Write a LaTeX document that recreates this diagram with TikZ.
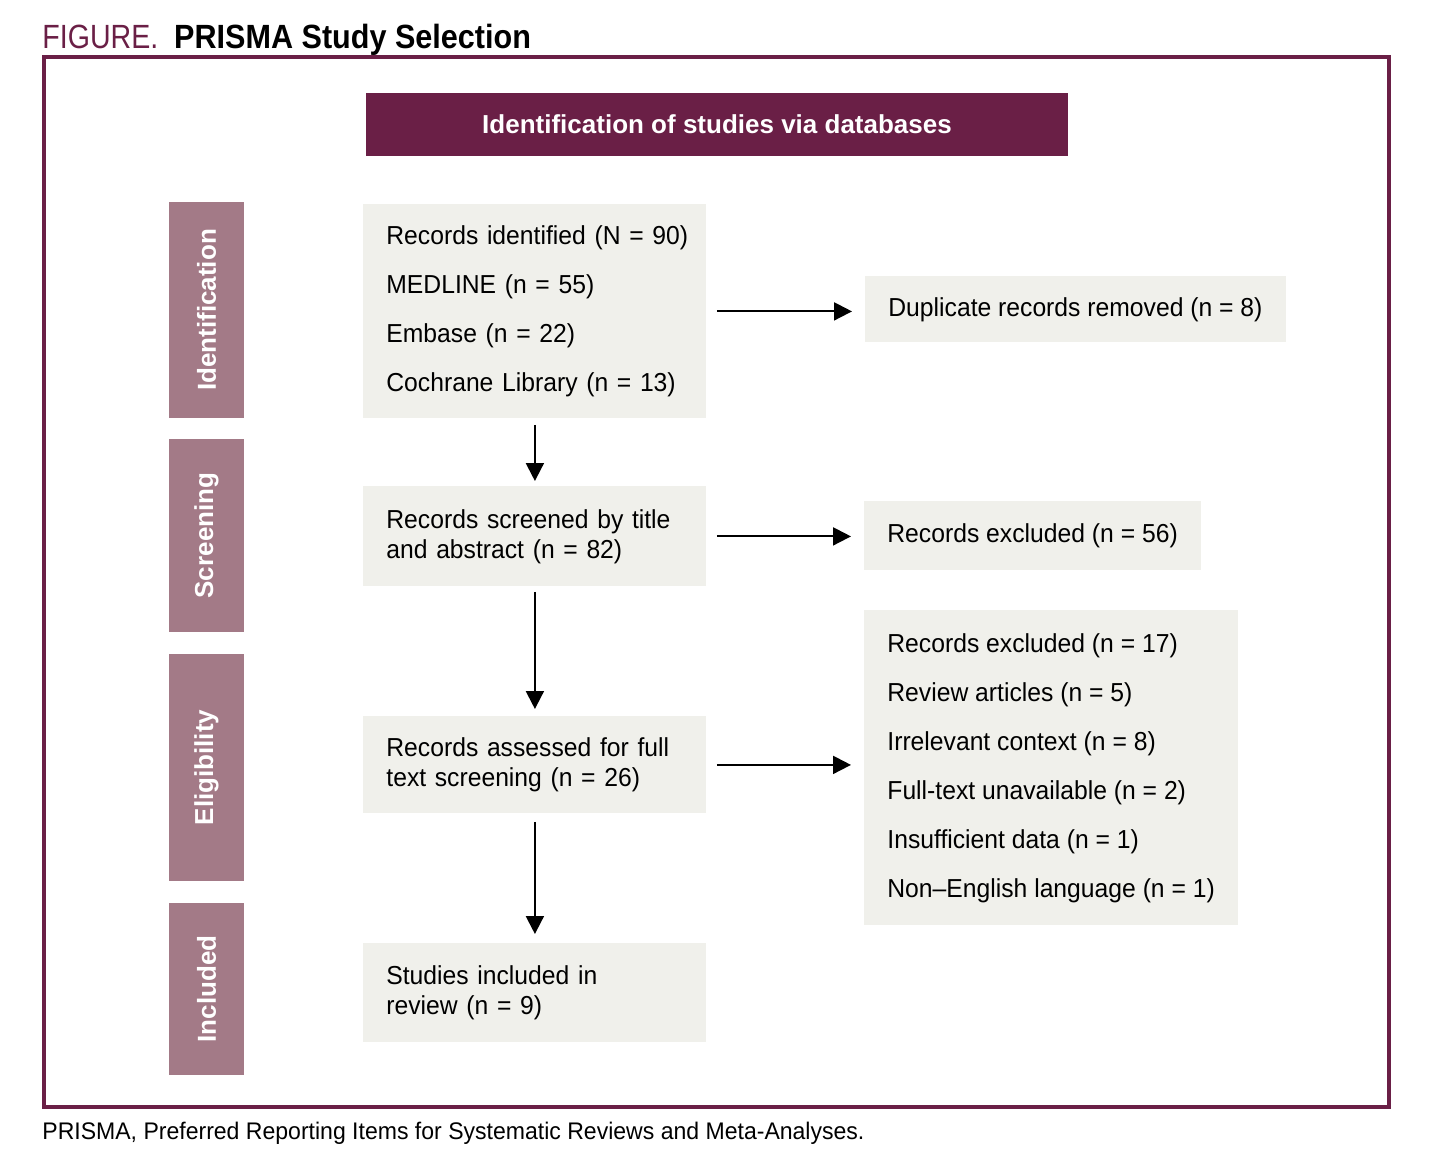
\documentclass[tikz,border=0pt]{standalone}
\usepackage{fontspec}
\setmainfont{Liberation Sans}
\newfontfamily\bodyfont{Liberation Sans}[FakeStretch=0.95]
\newfontfamily\capfont{Liberation Sans}[FakeStretch=0.96]
\newfontfamily\titlefont{Liberation Sans}[FakeStretch=0.91]
\newfontfamily\figfont{Liberation Sans}[FakeStretch=0.85]
\usetikzlibrary{arrows.meta,positioning,calc}
\definecolor{maroon}{HTML}{6A1F46}
\definecolor{mauve}{HTML}{A37A87}
\definecolor{boxgray}{HTML}{F0F0EB}

\begin{document}
\begin{tikzpicture}[x=0.5pt,y=-0.5pt]
\tikzset{stage/.style={fill=mauve, text=white, rotate=90, inner sep=0pt, minimum height=37.5pt, font=\bfseries\fontsize{13}{15}\selectfont}}
\tikzset{record/.style={fill=boxgray, anchor=north west, inner xsep=11.5pt, inner ysep=0pt, align=left, font=\bodyfont\fontsize{13}{15}\selectfont}}
\tikzset{recordlist/.style={record, font=\bodyfont\fontsize{13}{24.5}\selectfont}}
\tikzset{flow/.style={-{Triangle[length=9pt,width=9pt]}, line width=1pt}}

\useasboundingbox (0,0) rectangle (1454,1162);

%% Title and frame
\node[anchor=base west, inner sep=0pt] (title) at (42,48)
    {{\color{maroon}\figfont\fontsize{16.8}{18}\selectfont FIGURE.}\hspace{8pt}{\titlefont\bfseries\fontsize{16.8}{18}\selectfont PRISMA Study Selection}};
\draw[maroon, line width=2pt] (44,57) rectangle (1389,1107);

\node[fill=maroon, text=white, minimum width=351pt, minimum height=31.5pt, inner sep=0pt,
      font=\bfseries\fontsize{13}{15}\selectfont] (head) at (717,124.5) {Identification of studies via databases};

%% Stages
\node[stage, minimum width=108pt] (sid) at (206.5,310) {Identification};
\node[stage, minimum width=96.5pt] (ssc) at (206.5,535.5) {Screening};
\node[stage, minimum width=113.5pt] (sel) at (206.5,767.5) {Eligibility};
\node[stage, minimum width=86pt] (sin) at (206.5,989) {Included};

%% Main column
\begin{scope}[every node/.append style={text width=148.5pt}]
    \node[recordlist, minimum height=107pt] at (363,204) (rec1)
        {\mbox{Records identified (N = 90)}\\ MEDLINE (n = 55)\\ Embase (n = 22)\\ Cochrane Library (n = 13)};
    \node[record, minimum height=50pt] at (363,486) (rec2)
        {Records screened by title\\ and abstract (n = 82)};
    \node[record, minimum height=48.5pt] at (363,716) (rec3)
        {Records assessed for full\\ text screening (n = 26)};
    \node[record, minimum height=49.5pt] at (363,943) (rec4)
        {Studies included in\\ review (n = 9)};
\end{scope}

%% Exclusions
\node[record, minimum height=33pt] at (865,276) (dup) {Duplicate records removed (n = 8)};
\node[record, minimum height=34.5pt] at (864,501) (exc1) {Records excluded (n = 56)};
\node[recordlist, minimum height=157.5pt] at (864,610) (exc2)
    {Records excluded (n = 17)\\ Review articles (n = 5)\\ Irrelevant context (n = 8)\\
     Full-text unavailable (n = 2)\\ Insufficient data (n = 1)\\ Non–English language (n = 1)};

  \draw[flow, shorten <=3pt, shorten >=2.5pt] (rec1) -- (rec2);
  \draw[flow, shorten <=2.5pt, shorten >=3.5pt] (rec2) -- (rec3);
  \draw[flow, shorten <=4pt, shorten >=4.5pt] (rec3) -- (rec4);
  \draw[flow, shorten <=5pt, shorten >=6.5pt] (rec1.east) -- (rec1.east -| dup.west);
  \draw[flow, shorten <=5pt, shorten >=6.5pt] (rec2.east) -- (rec2.east -| exc1.west);
  \draw[flow, shorten <=5pt, shorten >=6.5pt] (rec3.east) -- (rec3.east -| exc2.west);

\node[anchor=base west, inner sep=0pt, font=\capfont\fontsize{12}{14}\selectfont] (note) at (42,1139)
    {PRISMA, Preferred Reporting Items for Systematic Reviews and Meta-Analyses.};

\end{tikzpicture}
\end{document}
